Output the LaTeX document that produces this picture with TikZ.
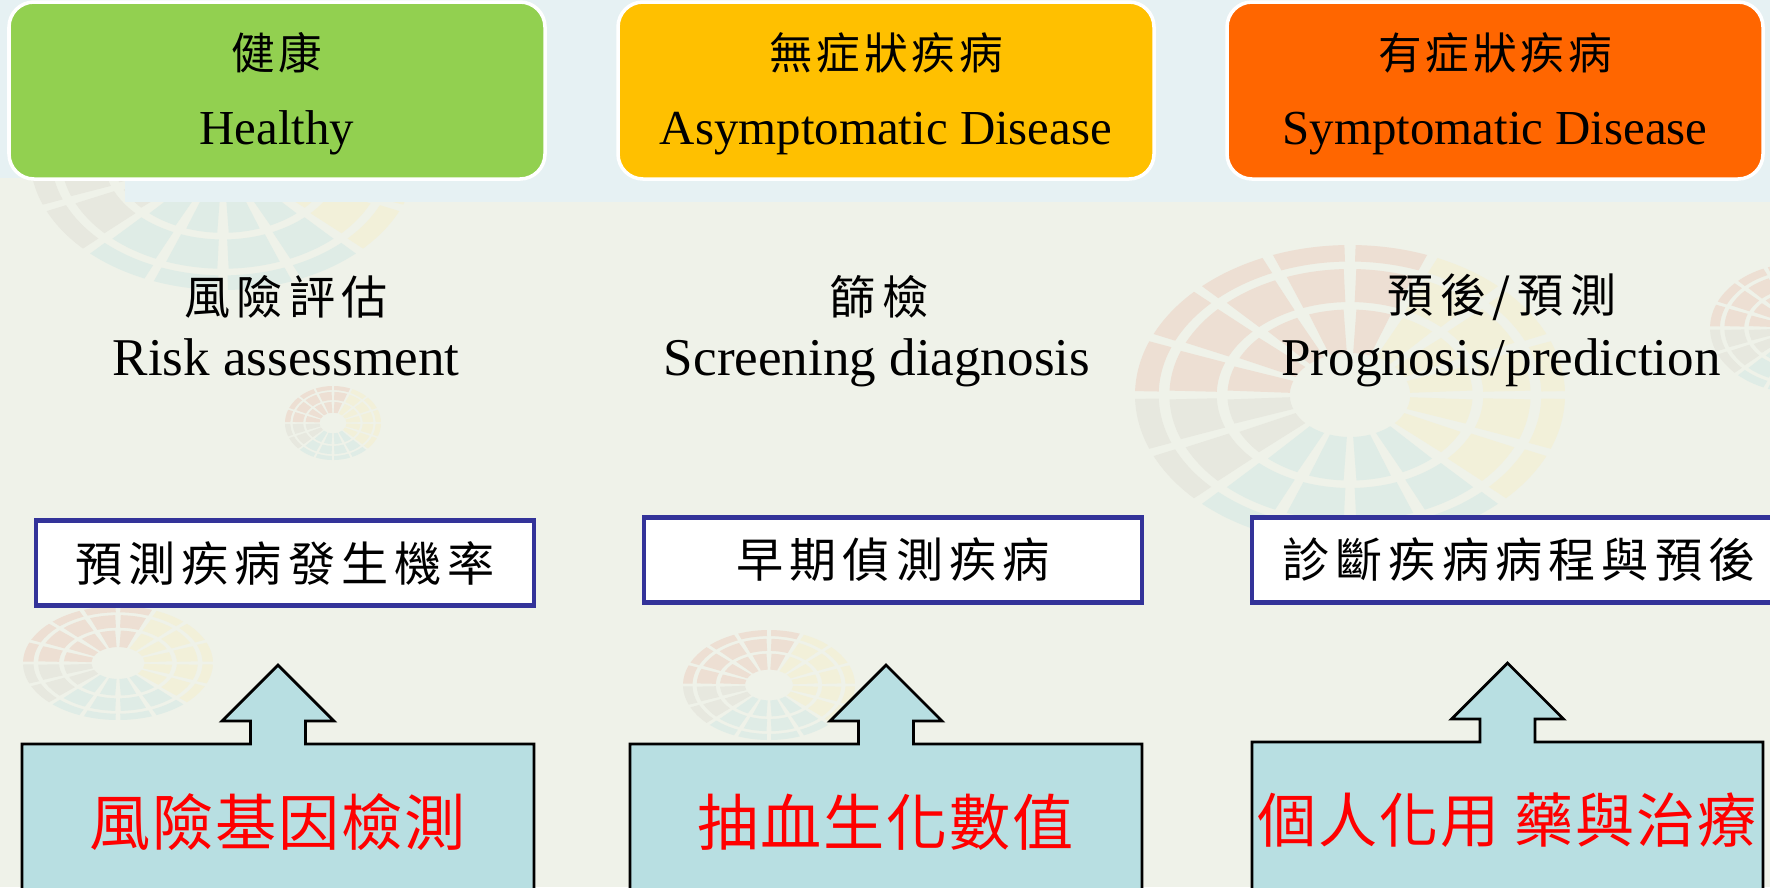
\documentclass[tikz,border=0pt]{standalone}
\usepackage{fontspec}
\setmainfont{Liberation Serif}
\newfontfamily\cjktop[LetterSpace=9]{Noto Sans CJK TC}
\newfontfamily\cjkmid[LetterSpace=14]{Noto Sans CJK TC}
\newfontfamily\cjkgoal[LetterSpace=13]{Noto Sans CJK TC}
\newfontfamily\cjkred[LetterSpace=3]{Noto Sans CJK TC}
\usetikzlibrary{positioning}

\definecolor{bgpaper}{RGB}{239,242,233}
\definecolor{bgband}{RGB}{230,241,243}
\definecolor{healthgreen}{RGB}{146,208,80}
\definecolor{asymyellow}{RGB}{255,192,0}
\definecolor{symorange}{RGB}{255,102,0}
\definecolor{framenavy}{RGB}{51,51,153}
\definecolor{arrowteal}{RGB}{184,223,226}
% faint wheel tints
\definecolor{wheelsalmon}{RGB}{237,223,211}
\definecolor{wheelgrey}{RGB}{231,232,223}
\definecolor{wheelteal}{RGB}{223,236,230}
\definecolor{wheelyellow}{RGB}{242,240,217}

\tikzset{
  stagebox/.style = {draw = white, line width = 1pt, rounded corners = .25cm},
  stagezh/.style = {font = \cjktop\fontsize{12.4}{14}\selectfont},
  stageen/.style = {anchor = base, font = \fontsize{13.9}{16}\selectfont},
  taskzh/.style = {font = \cjkmid\fontsize{13.1}{15}\selectfont},
  tasken/.style = {anchor = base, font = \fontsize{15.1}{18}\selectfont},
  goalbox/.style = {draw = framenavy, fill = white, line width = 1.2pt,
    minimum height = .85cm, inner sep = 0pt,
    font = \cjkgoal\fontsize{13.4}{15}\selectfont},
  blockarrow/.style = {draw = black, fill = arrowteal, line width = .8pt,
    line join = miter},
  toolzh/.style = {text = red, font = \cjkred\fontsize{17.4}{20}\selectfont}
}

% background wheel: centre x, centre y, radius x, radius y
\newcommand\wheelmark[4]{%
  \begin{scope}[shift = {(#1, #2)}, xscale = #3/100, yscale = #4/100]
    \foreach \a/\c in {0/wheelyellow, 22.5/wheelyellow, 45/wheelteal,
      67.5/wheelteal, 90/wheelteal, 112.5/wheelteal, 135/wheelgrey,
      157.5/wheelgrey, 180/wheelsalmon, 202.5/wheelsalmon,
      225/wheelsalmon, 247.5/wheelsalmon, 270/wheelsalmon,
      292.5/wheelyellow, 315/wheelyellow, 337.5/wheelyellow} {
      \fill[\c] (\a + 1.5:100) arc[start angle = \a + 1.5,
        end angle = \a + 21, radius = 100] -- (\a + 21:89)
        arc[start angle = \a + 21, end angle = \a + 1.5, radius = 89]
        -- cycle;
      \fill[\c] (\a + 2:84) arc[start angle = \a + 2,
        end angle = \a + 20.5, radius = 84] -- (\a + 20.5:62)
        arc[start angle = \a + 20.5, end angle = \a + 2, radius = 62]
        -- cycle;
      \fill[\c] (\a + 3:57) arc[start angle = \a + 3,
        end angle = \a + 19.5, radius = 57] -- (\a + 19.5:28)
        arc[start angle = \a + 19.5, end angle = \a + 3, radius = 28]
        -- cycle;
    }
  \end{scope}}

\begin{document}
\begin{tikzpicture}[x = .01cm, y = -.01cm]
  \useasboundingbox (0, 0) rectangle (1770, 887);
  \clip (0, 0) rectangle (1770, 887);

  % background
  \fill[bgpaper] (0, 0) rectangle (1770, 887);
  \wheelmark{223}{157}{193}{133}
  \wheelmark{1350}{395}{215}{150}
  \wheelmark{1800}{328}{90}{65}
  \wheelmark{333}{423}{48}{37}
  \wheelmark{118}{663}{95}{57}
  \wheelmark{769}{685}{86}{55}
  \fill[bgband] (125, 0) rectangle (1770, 202);
  \fill[bgband] (0, 0) rectangle (125, 178);

  % stages
  \draw[stagebox, fill = healthgreen] (9, 2) rectangle (545, 179);
  \draw[stagebox, fill = asymyellow] (618, 2) rectangle (1154, 179);
  \draw[stagebox, fill = symorange] (1227, 2) rectangle (1763, 179);

  \node[stagezh] (healthyzh) at (277, 53) {健康};
  \node[stageen] (healthyen) at (277, 144) {Healthy};
  \node[stagezh] (asymzh) at (886, 53) {無症狀疾病};
  \node[stageen] (asymen) at (886, 144) {Asymptomatic Disease};
  \node[stagezh] (symzh) at (1495, 53) {有症狀疾病};
  \node[stageen] (symen) at (1495, 144) {Symptomatic Disease};

  % tasks
  \node[taskzh] (riskzh) at (286, 297) {風險評估};
  \node[tasken] (risken) at (286, 375) {Risk assessment};
  \node[taskzh] (screenzh) at (879, 297) {篩檢};
  \node[tasken] (screenen) at (877, 375) {Screening diagnosis};
  \node[taskzh] (prognzh) at (1502, 297) {預後/預測};
  \node[tasken] (prognen) at (1501, 375) {Prognosis/prediction};

  % goals
  \node[goalbox, minimum width = 4.97cm] (riskgoal) at (285, 563)
  {預測疾病發生機率};
  \node[goalbox, minimum width = 4.97cm] (screengoal) at (893, 560)
  {早期偵測疾病};
  \node[goalbox, minimum width = 5.34cm] (progngoal) at (1519, 560)
  {診斷疾病病程與預後};

  % tools
  \foreach \l/\r/\t in {22/534/744, 630/1142/744, 1252/1763/742} {
    \pgfmathsetmacro{\m}{(\l + \r)/2}
    \draw[blockarrow] (\l, 900) -- (\l, \t) -- (\m - 27.5, \t)
    -- (\m - 27.5, \t - 23) -- (\m - 56, \t - 23) -- (\m, \t - 79)
    -- (\m + 56, \t - 23) -- (\m + 27.5, \t - 23) -- (\m + 27.5, \t)
    -- (\r, \t) -- (\r, 900);
  }

  \node[toolzh] (genetest) at (278, 822) {風險基因檢測};
  \node[toolzh] (bloodtest) at (886, 822) {抽血生化數值};
  \node[toolzh, font = \cjkred\fontsize{16.8}{20}\selectfont] (persomed)
  at (1507, 820) {個人化用 藥與治療};
\end{tikzpicture}
\end{document}
